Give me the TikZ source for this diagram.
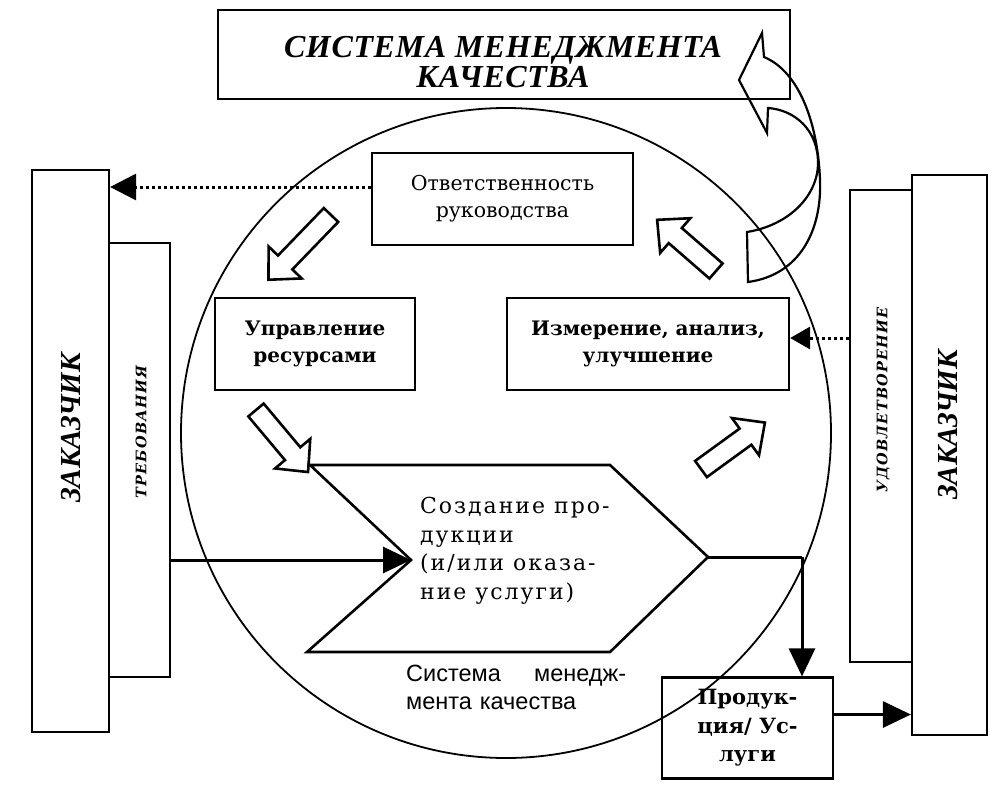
\documentclass[tikz,border=0pt]{standalone}
\usepackage{fontspec}
\setmainfont{DejaVu Serif}
\newfontfamily\titlef[LetterSpace=2]{Liberation Serif}
\newfontfamily\vertbigf{Liberation Serif}
\newfontfamily\vertf[LetterSpace=8]{DejaVu Serif}
\newfontfamily\spacedf[LetterSpace=9]{DejaVu Serif}
\newfontfamily\sansf{Liberation Sans}
\usetikzlibrary{arrows.meta}
\newcommand{\hollowarr}[4]{%
\begin{scope}[shift={(#1,#2)},rotate=#3]
\draw[hollow] (0,-10) -- (#4-24,-10) -- (#4-24,-23) -- (#4,0) -- (#4-24,23) -- (#4-24,10) -- (0,10) -- cycle;
\end{scope}}
\begin{document}
\begin{tikzpicture}[x=1pt,y=-1pt,line join=miter,
  box/.style={draw,line width=2.2pt,inner sep=0pt,align=center},
  hollow/.style={line width=2.6pt,line join=miter},
  dotarrow/.style={line width=3pt,dash pattern=on 3pt off 3pt,-{Triangle[length=26pt,width=26pt]}},
  dotarrowb/.style={line width=3pt,dash pattern=on 3pt off 3pt,-{Triangle[length=20pt,width=22pt]}},
  solidarrow/.style={line width=3pt,-{Triangle[length=28pt,width=26pt]}},
  boxtext/.style={font=\fontsize{20.5}{27}\selectfont},
  boxbold/.style={font=\bfseries\fontsize{20}{27}\selectfont},
  vertbig/.style={font=\vertbigf\bfseries\itshape\fontsize{29}{30}\selectfont,rotate=90},
  vertsmall/.style={font=\vertf\bfseries\itshape\fontsize{14.5}{16}\selectfont,rotate=90}]
\useasboundingbox (0,0) rectangle (995,784);
% circle
\draw[line width=1.8pt] (506,433) circle[radius=325];
% title
\node[box,line width=2.4pt,minimum width=572pt,minimum height=89pt] (title) at (504,54.5) {};
\node[font=\titlef\bfseries\itshape\fontsize{32}{30}\selectfont,align=center] (titlet) at (503,62) {СИСТЕМА МЕНЕДЖМЕНТА\\КАЧЕСТВА};
% big curved arrow
\draw[line width=2.2pt] (762,33) -- (764,57) .. controls (800,72) and (818,125) .. (820,180) .. controls (822,230) and (800,275) .. (748,282) -- (747,232) .. controls (790,225) and (818,195) .. (818,163) .. controls (818,130) and (795,110) .. (768,108) -- (767,133) -- (739,80) -- cycle;
% boxes
\node[box,minimum width=261pt,minimum height=92pt,boxtext] (resp) at (502.5,199) {Ответственность\\руководства};
\node[box,minimum width=200pt,minimum height=92pt,boxbold] (res) at (315,344) {Управление\\ресурсами};
\node[box,minimum width=282pt,minimum height=92pt,boxbold] (meas) at (648,344) {Измерение, анализ,\\улучшение};
\node[box,minimum width=171pt,minimum height=101pt,font=\bfseries\fontsize{21}{28.5}\selectfont] (prod) at (747.5,728) {Продук-\\ция/ Ус-\\луги};
\node[box,minimum width=77pt,minimum height=562pt] (zakL) at (70.5,451) {};
\node[box,minimum width=61pt,minimum height=434pt] (treb) at (139.5,460) {};
\node[box,minimum width=62pt,minimum height=472pt] (udov) at (881,426) {};
\node[box,minimum width=75pt,minimum height=560pt] (zakR) at (949.5,455) {};
\node[vertbig] (zakLt) at (71,428) {ЗАКАЗЧИК};
\node[vertsmall] (trebt) at (141,432) {ТРЕБОВАНИЯ};
\node[vertsmall] (udovt) at (883,400) {УДОВЛЕТВОРЕНИЕ};
\node[vertbig] (zakRt) at (948,425) {ЗАКАЗЧИК};
% chevron
\coordinate (cTL) at (310,465);
\coordinate (cTR) at (610,465);
\coordinate (cR) at (708,557);
\coordinate (cBR) at (610,652);
\coordinate (cBL) at (307,652);
\coordinate (notch) at (411,560);
\draw[line width=2.6pt] (cTL) -- (cTR) -- (cR) -- (cBR) -- (cBL) -- (notch) -- cycle;
\node[font=\spacedf\fontsize{22}{28.5}\selectfont,align=left,anchor=north west,inner sep=0pt] (create) at (420,497) {Создание про-\\дукции\\(и/или оказа-\\ние услуги)};
\node[font=\sansf\fontsize{23.5}{28}\selectfont,align=left,text width=220pt,anchor=north west,inner sep=0pt] (qms) at (406,665) {Система\hfill менедж-\\мента качества};
% hollow arrows
\hollowarr{331}{215}{-134}{90}
\hollowarr{716}{271}{139}{78}
\hollowarr{701}{469}{36}{79}
\hollowarr{256}{410}{-50}{81}
% connectors
\coordinate (rW) at ([yshift=12pt]resp.west);
\draw[dotarrow] (rW) -- (rW -| zakL.east);
\coordinate (mE) at ([yshift=6pt]meas.east);
\draw[dotarrowb] (mE -| udov.west) -- (mE);
\draw[solidarrow] (notch -| treb.east) -- (notch);
\coordinate (elbow) at (802,557);
\draw[line width=3pt] (cR) -- (elbow);
\draw[solidarrow] (elbow) -- (elbow |- prod.north);
\coordinate (pE) at ([yshift=13.5pt]prod.east);
\draw[solidarrow] (pE) -- (pE -| zakR.west);
\end{tikzpicture}
\end{document}
